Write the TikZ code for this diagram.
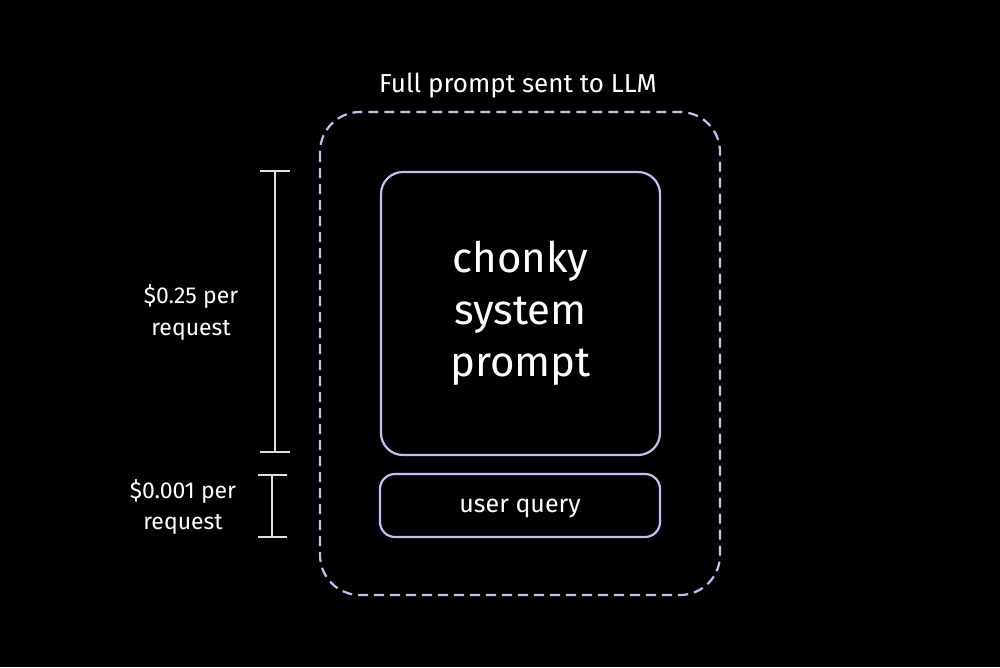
\documentclass[tikz,border=0pt]{standalone}
\usepackage{fontspec}
\setmainfont{Fira Sans}
\definecolor{lavender}{RGB}{205,186,245}
\definecolor{chalk}{RGB}{225,225,225}

\tikzset{
  promptbox/.style={draw=lavender,line width=2.2pt,rounded corners=#1},
  label/.style={text=white,align=center,inner sep=0pt},
  bracket/.style={draw=chalk,line width=2.4pt}
}

\begin{document}
\begin{tikzpicture}[x=1pt,y=-1pt]
\fill[black] (0,0) rectangle (1000,667);
\useasboundingbox (0,0) rectangle (1000,667);

% outer frame, dashed
\draw[promptbox=40pt,dash pattern=on 10pt off 6pt] (320,112) rectangle (720,595);
\node[label,font=\fontsize{26}{30}\selectfont] (full) at (518,86) {Full prompt sent to LLM};

% the two parts of the prompt
\node[promptbox=22pt,minimum width=279pt,minimum height=283pt,label,
  font=\fontsize{42}{52}\selectfont] (sys) at (520.5,313.5) {chonky\\system\\prompt};
\node[promptbox=15pt,minimum width=280pt,minimum height=63pt,label,text depth=0pt,
  font=\fontsize{25}{30}\selectfont] (user) at (520,505.5) {user query};

% cost brackets
\coordinate (a1) at (275,171);
\coordinate (a2) at (275,452);
\draw[bracket] (a1) -- (a2);
\draw[bracket] ([xshift=-15pt]a1) -- ([xshift=15pt]a1);
\draw[bracket] ([xshift=-15pt]a2) -- ([xshift=15pt]a2);
\node[label,font=\fontsize{23}{32}\selectfont] (sysCost) at (191,312) {\$0.25 per\\request};

\coordinate (b1) at (272,475);
\coordinate (b2) at (272,537);
\draw[bracket] (b1) -- (b2);
\draw[bracket] ([xshift=-14pt]b1) -- ([xshift=15pt]b1);
\draw[bracket] ([xshift=-14pt]b2) -- ([xshift=15pt]b2);
\node[label,font=\fontsize{23}{31}\selectfont] (userCost) at (183,507) {\$0.001 per\\request};
\end{tikzpicture}
\end{document}
